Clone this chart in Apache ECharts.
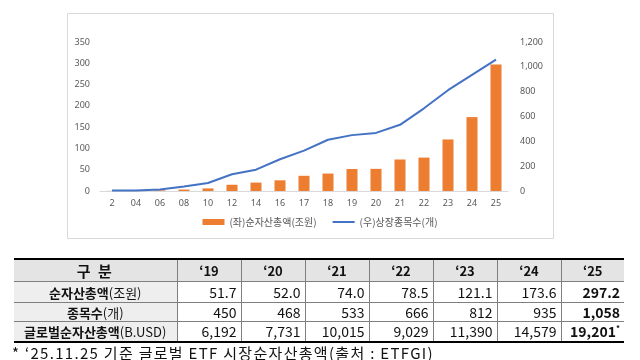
<!DOCTYPE html>
<html><head><meta charset="utf-8">
<script src="https://cdn.jsdelivr.net/npm/echarts@6/dist/echarts.min.js"></script>
<style>
html,body{margin:0;padding:0;background:#fff;width:640px;height:360px;overflow:hidden;font-family:"Noto Sans CJK KR","Noto Sans",sans-serif;}
#chart{position:absolute;left:0;top:0;width:640px;height:360px;}
#tbl{position:absolute;left:14px;top:258px;border-collapse:collapse;table-layout:fixed;font-family:"Noto Sans CJK KR",sans-serif;}
#tbl td{border:1px solid #7f7f7f;padding:0 4px;font-size:14px;color:#111;line-height:1;white-space:nowrap;overflow:visible;}
#tbl tr:first-child td{border-top:2px solid #000;background:#e4e4e4;font-weight:bold;text-align:center;height:21px;font-size:13px;}
#tbl tr:first-child td:first-child{font-size:15px;letter-spacing:2px;}
#tbl tr:last-child td{border-bottom:2px solid #000;}
#tbl td.h{background:#eeeeee;text-align:center;font-weight:bold;font-size:13px;}
#tbl td.h span{font-weight:normal;}
#tbl td.n{text-align:right;}
#tbl td.b{font-weight:bold;}
#tbl td:first-child{border-left:none;}
#tbl td:last-child{border-right:none;}
#note{position:absolute;left:12px;top:342px;font-size:15px;letter-spacing:1.3px;color:#111;white-space:nowrap;font-family:"Noto Sans CJK KR",sans-serif;}
</style></head>
<body>
<div id="chart"></div>
<table id="tbl"></table>
<div id="note">* ‘25.11.25 기준 글로벌 ETF 시장순자산총액(출처 : ETFGI)</div>
<script>
// chart data
const categories = ['2','04','06','08','10','12','14','16','17','18','19','20','21','22','23','24','25'];
const netAssets = [0.3,0.5,1.6,3.4,6.1,14.7,19.8,25.1,35.7,41.0,51.7,52.0,74.0,78.5,121.1,173.6,297.2];
const listings = [4,4,12,37,64,135,172,256,325,413,450,468,533,666,812,935,1058];
const leftTicks = [0,50,100,150,200,250,300,350];
const rightTicks = [0,200,400,600,800,1000,1200];
const seriesNames = ['(좌)순자산총액(조원)','(우)상장종목수(개)'];

// table data
const tableYears = ['‘19','‘20','‘21','‘22','‘23','‘24','‘25'];
const rowLabels = [['순자산총액','(조원)'],['종목수','(개)'],['글로벌순자산총액','(B.USD)']];
const tableNetAssets = ['51.7','52.0','74.0','78.5','121.1','173.6','297.2'];
const tableListings = ['450','468','533','666','812','935','1,058'];
const tableGlobal = ['6,192','7,731','10,015','9,029','11,390','14,579','19,201'];

// build table
const tbl = document.getElementById('tbl');
const widths = [163,64,64,64,64,64,64,63];
let cg = '<colgroup>' + widths.map(w=>'<col style="width:'+w+'px">').join('') + '</colgroup>';
let html = cg + '<tr><td>구 분</td>' + tableYears.map(y=>'<td>'+y+'</td>').join('') + '</tr>';
const rows = [tableNetAssets, tableListings, tableGlobal];
const rh = [21,19,20];
rows.forEach((r,i)=>{
  html += '<tr style="height:'+rh[i]+'px"><td class="h">'+rowLabels[i][0]+'<span>'+rowLabels[i][1]+'</span></td>';
  r.forEach((v,j)=>{
    const last = j===r.length-1;
    let txt = v;
    if (last && i===2) txt = v + '<sup style="font-size:8px;vertical-align:6px;line-height:0">*</sup>';
    html += '<td class="n'+(last?' b':'')+'">'+txt+'</td>';
  });
  html += '</tr>';
});
tbl.innerHTML = html;

const chart = echarts.init(document.getElementById('chart'), null, {renderer:'canvas'});
const axisFont = {color:'#595959', fontSize:9, fontFamily:'Noto Sans'};
const lineIcon = 'path://M0,0L0.01,0L0.01,0.01Z M0,2L22,2L22,4L0,4Z M0,6L0.01,6L0.01,5.99Z';
chart.setOption({
  animation:false,
  backgroundColor:'transparent',
  graphic:[{type:'rect', shape:{x:67.5,y:13.5,width:486,height:225}, style:{fill:'#fff',stroke:'#d9d9d9',lineWidth:1}, z:-10}],
  grid:{left:100,right:132,top:42,bottom:169},
  legend:{
    bottom:128, left:'center', itemGap:16, itemWidth:22, itemHeight:6,
    textStyle:{color:'#595959',fontSize:10,fontFamily:'Noto Sans CJK KR'},
    data:[{name:seriesNames[0],icon:'rect'},{name:seriesNames[1],icon:lineIcon}]
  },
  xAxis:{type:'category',data:categories,
    axisLine:{lineStyle:{color:'#d9d9d9'}},axisTick:{show:false},
    axisLabel:Object.assign({margin:8,interval:0},axisFont)},
  yAxis:[
    {type:'value',min:leftTicks[0],max:leftTicks[leftTicks.length-1],interval:50,
     splitLine:{show:false},axisLine:{show:false},axisTick:{show:false},
     axisLabel:Object.assign({margin:10},axisFont)},
    {type:'value',min:rightTicks[0],max:rightTicks[rightTicks.length-1],interval:200,
     splitLine:{show:false},axisLine:{show:false},axisTick:{show:false},
     axisLabel:Object.assign({margin:12,formatter:v=>v.toLocaleString('en-US')},axisFont)}
  ],
  series:[
    {name:seriesNames[0],type:'bar',data:netAssets,yAxisIndex:0,barWidth:11,itemStyle:{color:'#ED7D31'}},
    {name:seriesNames[1],type:'line',data:listings,yAxisIndex:1,symbol:'none',smooth:false,
     lineStyle:{color:'#4472C4',width:2},itemStyle:{color:'#4472C4'}}
  ]
});
</script>
</body></html>
